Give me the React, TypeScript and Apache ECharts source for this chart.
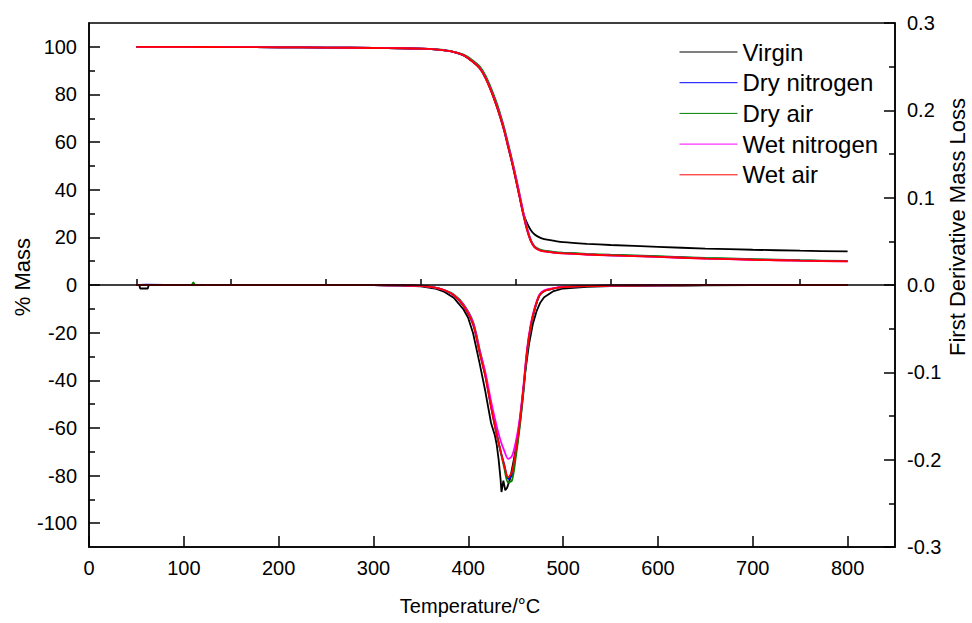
import React, { useEffect, useRef } from "react";
import * as echarts from "echarts";

// ---- Data ----
const seriesNames = ["Virgin", "Dry nitrogen", "Dry air", "Wet nitrogen", "Wet air"];
const seriesColors = ["#000000", "#0000ff", "#008000", "#ff00ff", "#ff0000"];

const xTicks = [0, 100, 200, 300, 400, 500, 600, 700, 800];
const xMinorTicks = [50, 150, 250, 350, 450, 550, 650, 750];
const yLeftTicks = [-100, -80, -60, -40, -20, 0, 20, 40, 60, 80, 100];
const yLeftMinorTicks = [-90, -70, -50, -30, -10, 10, 30, 50, 70, 90];

// % Mass curves
const massTemps = [50, 100, 150, 200, 250, 300, 330, 350, 365, 375, 385, 395, 405, 412, 418, 424, 430, 434, 438, 442, 446, 450, 454, 458, 462, 466, 470, 475, 480, 490, 500, 525, 550, 600, 650, 700, 750, 800];
const massVirgin = [100, 99.95, 99.9, 99.8, 99.7, 99.5, 99.4, 99.2, 98.9, 98.5, 97.8, 96.4, 93.6, 91.0, 87.0, 81.5, 75.0, 70.0, 64.5, 58.0, 51.5, 44.5, 37.2, 30.0, 26.0, 23.0, 21.2, 20.0, 19.3, 18.6, 18.0, 17.3, 16.8, 16.0, 15.3, 14.8, 14.4, 14.1];
const massDryNitrogen = [100, 99.95, 99.9, 99.8, 99.7, 99.5, 99.4, 99.2, 98.9, 98.5, 97.8, 96.5, 93.8, 91.3, 87.4, 82.0, 75.6, 70.6, 65.0, 58.6, 52.0, 45.0, 37.4, 29.8, 23.2, 18.5, 15.9, 14.7, 14.2, 13.7, 13.4, 12.9, 12.5, 11.9, 11.2, 10.7, 10.3, 10.0];
const massDryAir = [100, 99.95, 99.9, 99.8, 99.7, 99.5, 99.4, 99.2, 98.9, 98.6, 97.9, 96.7, 94.2, 91.8, 88.0, 82.7, 76.4, 71.4, 65.8, 59.4, 52.8, 45.8, 38.2, 30.6, 23.8, 18.9, 16.2, 15.0, 14.4, 13.9, 13.6, 13.1, 12.7, 12.1, 11.4, 10.9, 10.4, 10.1];
const massWetNitrogen = [100, 99.95, 99.9, 99.8, 99.7, 99.5, 99.4, 99.2, 98.9, 98.5, 97.8, 96.5, 93.7, 91.2, 87.2, 81.8, 75.4, 70.5, 65.0, 58.8, 52.4, 45.6, 38.2, 30.6, 23.8, 18.6, 15.9, 14.6, 14.1, 13.6, 13.3, 12.8, 12.4, 11.8, 11.1, 10.6, 10.2, 9.9];
const massWetAir = [100, 99.95, 99.9, 99.8, 99.7, 99.5, 99.4, 99.2, 98.9, 98.5, 97.8, 96.5, 93.6, 91.0, 87.0, 81.5, 75.0, 70.0, 64.5, 58.0, 51.5, 44.5, 37.0, 29.5, 23.0, 18.3, 15.8, 14.6, 14.1, 13.6, 13.3, 12.8, 12.4, 11.8, 11.1, 10.6, 10.2, 9.9];

// First derivative curves
const derivTemps = [50, 60, 100, 108, 110, 112, 150, 200, 250, 300, 330, 350, 365, 375, 385, 395, 405, 412, 418, 424, 430, 434, 438, 442, 446, 450, 454, 458, 462, 466, 470, 475, 480, 490, 500, 525, 550, 600, 650, 700, 750, 800];
const derivDryNitrogen = [0, 0.0005, 0, 0, 0, 0, 0, 0, 0, 0, -0.0005, -0.001, -0.003, -0.006, -0.012, -0.024, -0.045, -0.077, -0.104, -0.139, -0.171, -0.19, -0.206, -0.222, -0.218, -0.193, -0.162, -0.122, -0.077, -0.047, -0.028, -0.012, -0.007, -0.004, -0.0025, -0.0012, -0.0008, -0.0004, -0.0002, -0.0001, 0, 0];
const derivDryAir = [0, 0, 0, 0, 0.003, 0, 0, 0, 0, 0, -0.0005, -0.001, -0.003, -0.006, -0.011, -0.022, -0.042, -0.074, -0.102, -0.137, -0.17, -0.19, -0.21, -0.226, -0.224, -0.198, -0.165, -0.125, -0.078, -0.047, -0.028, -0.012, -0.007, -0.004, -0.0025, -0.0012, -0.0008, -0.0004, -0.0002, -0.0001, 0, 0];
const derivWetNitrogen = [0, 0, 0, 0, 0, 0, 0, 0, 0, 0, -0.0005, -0.001, -0.003, -0.006, -0.012, -0.023, -0.043, -0.075, -0.1, -0.133, -0.162, -0.178, -0.19, -0.199, -0.196, -0.18, -0.155, -0.117, -0.073, -0.044, -0.026, -0.011, -0.006, -0.0035, -0.002, -0.001, -0.0007, -0.0003, -0.0002, -0.0001, 0, 0];
const derivWetAir = [0, 0, 0, 0, 0, 0, 0, 0, 0, 0, -0.0005, -0.001, -0.003, -0.006, -0.012, -0.024, -0.045, -0.078, -0.105, -0.14, -0.172, -0.19, -0.207, -0.22, -0.214, -0.19, -0.16, -0.12, -0.075, -0.046, -0.027, -0.012, -0.007, -0.004, -0.0025, -0.0012, -0.0008, -0.0004, -0.0002, -0.0001, 0, 0];

const virginDerivTemps = [50, 53, 54, 62, 63, 100, 150, 200, 250, 300, 330, 350, 365, 375, 385, 395, 400, 405, 412, 418, 424, 428, 430, 432, 434, 435, 437, 439, 441, 444, 448, 452, 456, 460, 464, 468, 472, 476, 480, 490, 500, 525, 550, 600, 650, 700, 750, 800];
const derivVirgin = [0, 0, -0.004, -0.004, 0, 0, 0, 0, 0, 0, -0.0007, -0.0015, -0.004, -0.008, -0.015, -0.028, -0.038, -0.055, -0.09, -0.122, -0.158, -0.172, -0.183, -0.2, -0.222, -0.237, -0.224, -0.235, -0.232, -0.222, -0.2, -0.175, -0.14, -0.1, -0.068, -0.045, -0.03, -0.02, -0.014, -0.007, -0.004, -0.002, -0.0012, -0.0006, -0.0003, -0.0002, -0.0001, 0];

const massSets = [massVirgin, massDryNitrogen, massDryAir, massWetNitrogen, massWetAir];
const derivSets = [
  { t: virginDerivTemps, v: derivVirgin },
  { t: derivTemps, v: derivDryNitrogen },
  { t: derivTemps, v: derivDryAir },
  { t: derivTemps, v: derivWetNitrogen },
  { t: derivTemps, v: derivWetAir },
];

const FONT = 'Arial, "Liberation Sans", sans-serif';

export default function App() {
  const ref = useRef<HTMLDivElement>(null);

  useEffect(() => {
    document.body.style.margin = "0";
    if (!ref.current) return;
    const chart = echarts.init(ref.current, null, { renderer: "svg" });

    const pair = (t: number[], v: number[]) => t.map((x, i) => [x, v[i]]);

    const series: any[] = [
      {
        name: "zero",
        type: "line",
        xAxisIndex: 0,
        yAxisIndex: 0,
        data: [],
        z: 1,
        silent: true,
        markLine: {
          silent: true,
          symbol: "none",
          label: { show: false },
          lineStyle: { color: "#000", width: 1.5, type: "solid" },
          data: [{ yAxis: 0 }],
        },
      },
    ];
    seriesNames.forEach((name, i) => {
      series.push({
        name,
        type: "line",
        xAxisIndex: 0,
        yAxisIndex: 0,
        data: pair(massTemps, massSets[i]),
        symbol: "none",
        showSymbol: false,
        smooth: 0.3,
        z: 3,
        lineStyle: { color: seriesColors[i], width: 1.8 },
        itemStyle: { color: seriesColors[i] },
      });
    });
    seriesNames.forEach((name, i) => {
      series.push({
        name,
        type: "line",
        xAxisIndex: 0,
        yAxisIndex: 1,
        data: pair(derivSets[i].t, derivSets[i].v),
        symbol: "none",
        showSymbol: false,
        smooth: i === 0 ? false : 0.3,
        z: 3,
        lineStyle: { color: seriesColors[i], width: 1.8 },
        itemStyle: { color: seriesColors[i] },
      });
    });

    const axisLine = { show: true, onZero: false, lineStyle: { color: "#000", width: 1.5 } };
    const labelStyle = { color: "#000", fontSize: 20, fontFamily: FONT };

    const option: any = {
      animation: false,
      backgroundColor: "#ffffff",
      textStyle: { fontFamily: FONT },
      grid: {
        left: 89,
        top: 23,
        right: 77,
        bottom: 76,
        show: true,
        borderColor: "#000",
        borderWidth: 1.5,
        containLabel: false,
        outerBoundsMode: "none",
      },
      legend: {
        orient: "vertical",
        left: 674,
        top: 35,
        itemWidth: 58,
        itemHeight: 24,
        itemGap: 6.7,
        selectedMode: false,
        data: seriesNames,
        itemStyle: { opacity: 0 },
        lineStyle: { width: 1 },
        textStyle: { fontSize: 24, lineHeight: 24, color: "#000", fontFamily: FONT },
      },
      xAxis: [
        {
          type: "value",
          position: "bottom",
          min: 0,
          max: 850,
          name: "Temperature/°C",
          nameLocation: "middle",
          nameGap: 49,
          nameMoveOverlap: false,
          nameTextStyle: { fontSize: 20, color: "#000", fontFamily: FONT, padding: [0, 44, 0, 0] },
          axisLine,
          splitLine: { show: false },
          axisTick: { show: true, inside: true, length: 11, customValues: xTicks, lineStyle: { color: "#000", width: 1.5 } },
          axisLabel: { ...labelStyle, margin: 11, customValues: xTicks },
        },
        {
          type: "value",
          position: "bottom",
          min: 0,
          max: 850,
          axisLine: { show: false },
          splitLine: { show: false },
          axisLabel: { show: false },
          axisTick: { show: true, inside: true, length: 6, customValues: xMinorTicks, lineStyle: { color: "#000", width: 1.5 } },
        },
      ],
      yAxis: [
        {
          type: "value",
          position: "left",
          min: -110,
          max: 110,
          name: "% Mass",
          nameLocation: "middle",
          nameGap: 56,
          nameMoveOverlap: false,
          nameTextStyle: { fontSize: 22, color: "#000", fontFamily: FONT, padding: [0, 0, 0, 16] },
          axisLine,
          splitLine: { show: false },
          axisTick: { show: true, inside: true, length: 11, customValues: yLeftTicks, lineStyle: { color: "#000", width: 1.5 } },
          axisLabel: { ...labelStyle, margin: 12, customValues: yLeftTicks },
        },
        {
          type: "value",
          position: "right",
          min: -0.3,
          max: 0.3,
          interval: 0.1,
          name: "First Derivative Mass Loss",
          nameLocation: "middle",
          nameGap: 51,
          nameMoveOverlap: false,
          nameTextStyle: { fontSize: 22, color: "#000", fontFamily: FONT, padding: [0, 0, 0, 116] },
          axisLine,
          splitLine: { show: false },
          axisTick: { show: true, inside: true, length: 11, lineStyle: { color: "#000", width: 1.5 } },
          minorTick: { show: true, splitNumber: 2, length: 6, lineStyle: { color: "#000", width: 1.5 } },
          minorSplitLine: { show: false },
          axisLabel: { ...labelStyle, margin: 12, formatter: (v: number) => v.toFixed(1) },
        },
        {
          type: "value",
          position: "left",
          min: -110,
          max: 110,
          axisLine: { show: false },
          splitLine: { show: false },
          axisLabel: { show: false },
          axisTick: { show: true, inside: true, length: 6, customValues: yLeftMinorTicks, lineStyle: { color: "#000", width: 1.5 } },
        },
      ],
      series,
    };

    chart.setOption(option);
    return () => chart.dispose();
  }, []);

  return <div ref={ref} style={{ width: 972, height: 623 }} />;
}
